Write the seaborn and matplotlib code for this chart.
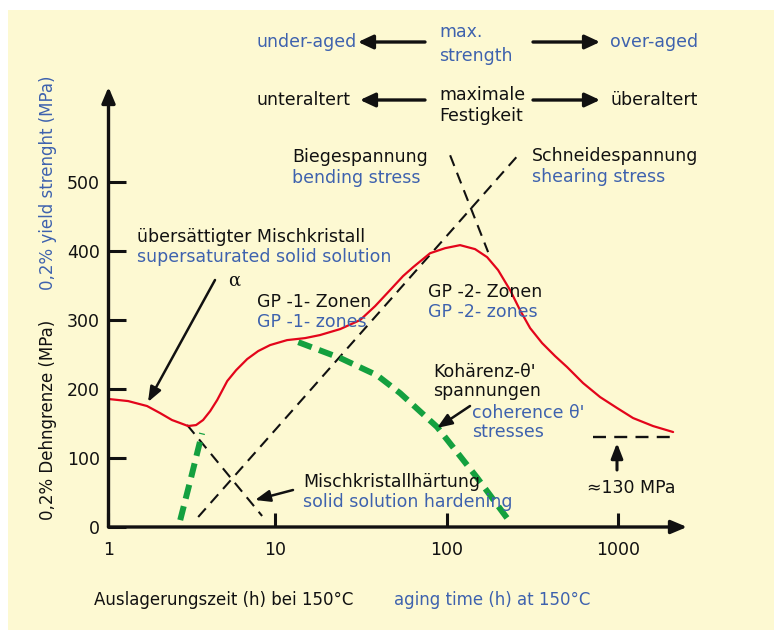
import matplotlib
matplotlib.use("Agg")
import matplotlib.pyplot as plt
from matplotlib.patches import Rectangle
import seaborn as sns
import pandas as pd

# ---------------- data ----------------
# yield strength curve (aging time h, MPa)
strength_time = [1.07, 1.38, 1.78, 2.12, 2.49, 2.78, 3.09, 3.44, 3.78, 4.16, 4.57,
                 5.23, 5.90, 6.84, 7.93, 9.31, 11.7, 14.9, 18.2, 23.9, 31.2, 38.2,
                 46.7, 55.6, 63.7, 80.0, 97.9, 119.7, 146.5, 172.2, 199.6, 234.5,
                 268, 307, 360.6, 429.5, 504.7, 625.6, 786.6, 988.6, 1225, 1602, 2099]
strength_mpa = [185.5, 182.6, 175.4, 165.2, 155.1, 150.7, 146.4, 147.8, 155.1, 168.1, 184.1,
                211.6, 227.5, 243.5, 255.1, 263.8, 271.0, 273.9, 278.3, 287.0, 300.0, 320.3,
                343.5, 363.8, 376.8, 397.0, 404.3, 408.7, 402.9, 391.3, 372.5, 343.5,
                314.5, 288.4, 266.7, 247.8, 231.9, 208.7, 188.4, 172.5, 158.0, 146.4, 137.7]

# shearing stress (Schneidespannung)
shear_time = [3.54, 261]
shear_mpa = [14.5, 539]
# bending stress (Biegespannung)
bend_time = [104.7, 174.5]
bend_mpa = [539, 398.6]
# solid solution hardening (Mischkristallhärtung)
ss_time = [3.05, 8.36]
ss_mpa = [148, 16]
# green: precipitation rise
green1_time = [2.78, 3.22, 3.73]
green1_mpa = [10, 72, 136]
# green: coherence stresses
green2_time = [13.6, 23.9, 39.2, 53.5, 87.9, 150, 225]
green2_mpa = [268, 245, 220, 194, 145, 72, 13]
# overaged level ~130 MPa
level_time = [716, 2213]
level_mpa = [130, 130]

y_ticks = [0, 100, 200, 300, 400, 500]
x_ticks = [1.06, 10, 100, 1000]
x_tick_labels = ["1", "10", "100", "1000"]

# ---------------- style ----------------
sns.set_style("white")
plt.rcParams["font.family"] = ["DejaVu Sans"]

YELLOW = "#FDF9D2"
RED = "#E3051B"
GREEN = "#14A03F"
BLUE = "#3E62AE"
BLACK = "#111111"

W, H = 774, 630
fig = plt.figure(figsize=(W / 100, H / 100), dpi=100, facecolor="white")
fig.patches.append(Rectangle((8 / W, 0), 1, (H - 10) / H, transform=fig.transFigure,
                             facecolor=YELLOW, edgecolor="none", zorder=-10))

ax_l, ax_r, ax_b, ax_t = 108.5, 687, 527, 87
ax = fig.add_axes([ax_l / W, (H - ax_b) / H, (ax_r - ax_l) / W, (ax_b - ax_t) / H])
ax.set_facecolor("none")
ax.set_xscale("log")
ax.set_xlim(1.06, 2530)
ax.set_ylim(0, 638)
for s in ax.spines.values():
    s.set_visible(False)
ax.grid(False)

# axis arrows
arrow_axis = dict(arrowstyle="-|>,head_length=0.95,head_width=0.4", lw=2.4, color=BLACK,
                  shrinkA=0, shrinkB=0, mutation_scale=10)
ax.annotate("", xy=(1, 0), xytext=(0, 0), xycoords="axes fraction", arrowprops=arrow_axis)
ax.annotate("", xy=(0, 1), xytext=(0, 0), xycoords="axes fraction", arrowprops=arrow_axis)

ax.set_yticks(y_ticks)
ax.set_yticklabels([str(v) for v in y_ticks])
ax.set_xticks(x_ticks)
ax.set_xticklabels(x_tick_labels)
ax.minorticks_off()
ax.tick_params(axis="y", direction="in", length=13, width=2.2, color=BLACK, pad=6,
               labelsize=12.5, labelcolor=BLACK, left=True)
ax.tick_params(axis="x", direction="in", length=10, width=2.2, color=BLACK, pad=10,
               labelsize=12.5, labelcolor=BLACK, bottom=True)

# ---------------- lines ----------------
def line(xs, ys, **kw):
    df = pd.DataFrame({"t": xs, "v": ys})
    return sns.lineplot(data=df, x="t", y="v", ax=ax, sort=False, estimator=None,
                        legend=False, **kw)

line(shear_time, shear_mpa, color=BLACK, lw=1.5, dashes=False)
line(bend_time, bend_mpa, color=BLACK, lw=1.5, dashes=False)
line(ss_time, ss_mpa, color=BLACK, lw=1.5, dashes=False)
line(level_time, level_mpa, color=BLACK, lw=1.7, dashes=False)
for l in ax.lines:
    l.set_dashes((5.5, 3.5))
n_black = len(ax.lines)
line(green1_time, green1_mpa, color=GREEN, lw=4.3, dashes=False)
line(green2_time, green2_mpa, color=GREEN, lw=4.3, dashes=False)
for l in ax.lines[n_black:]:
    l.set_dashes((2.4, 1.3))
    l.set_dash_capstyle("butt")
line(strength_time, strength_mpa, color=RED, lw=1.6, dashes=False)
for l in ax.lines:
    l.set_solid_joinstyle("round")
ax.set_xlabel("")
ax.set_ylabel("")

# ---------------- texts & annotation arrows (figure pixels) ----------------
def T(px, py, s, color=BLACK, size=12.5, ha="left", **kw):
    fig.text(px / W, 1 - py / H, s, color=color, fontsize=size, ha=ha, va="center", **kw)

def A(tail, head, lw=1.8, hl=0.9, hw=0.35, ms=10):
    ax.annotate("", xy=(head[0], H - head[1]), xytext=(tail[0], H - tail[1]),
                xycoords="figure pixels", textcoords="figure pixels",
                arrowprops=dict(arrowstyle=f"-|>,head_length={hl},head_width={hw}",
                                lw=lw, color=BLACK, shrinkA=0, shrinkB=0, mutation_scale=ms))

# top header
T(257, 42, "under-aged", BLUE)
T(439, 32, "max.", BLUE)
T(439, 56, "strength", BLUE)
T(610, 42, "over-aged", BLUE)
T(257, 100, "unteraltert")
T(439, 95, "maximale")
T(439, 116, "Festigkeit")
T(610, 100, "überaltert")
A((425, 42), (358, 42), lw=2.4, hw=0.42)
A((533, 42), (600, 42), lw=2.4, hw=0.42)
A((425, 100), (360, 100), lw=2.4, hw=0.42)
A((533, 100), (600, 100), lw=2.4, hw=0.42)

T(292, 157, "Biegespannung")
T(292, 178, "bending stress", BLUE)
T(532, 156, "Schneidespannung")
T(532, 177, "shearing stress", BLUE)
T(137, 237, "übersättigter Mischkristall")
T(137, 257, "supersaturated solid solution", BLUE)
T(228, 281, "α", size=13, family=["DejaVu Serif"])
T(257, 302, "GP -1- Zonen")
T(257, 322, "GP -1- zones", BLUE)
T(428, 292, "GP -2- Zonen")
T(428, 312, "GP -2- zones", BLUE)
T(433, 372, "Kohärenz-θ'")
T(433, 391, "spannungen")
T(472, 413, "coherence θ'", BLUE)
T(472, 432, "stresses", BLUE)
T(303, 482, "Mischkristallhärtung")
T(303, 502, "solid solution hardening", BLUE)
T(587, 488, "≈130 MPa")

A((215, 280), (148, 402))
A((293, 490), (255, 500))
A((470, 406), (437, 428))
A((617, 470), (617, 443), lw=2.2)

# axis titles
T(94, 600, "Auslagerungszeit (h) bei 150°C", size=12)
T(394, 600, "aging time (h) at 150°C", BLUE, size=12)
fig.text(48 / W, 1 - 420 / H, "0,2% Dehngrenze (MPa)", rotation=90, fontsize=12,
         color=BLACK, ha="center", va="center")
fig.text(48 / W, 1 - 183 / H, "0,2% yield strenght (MPa)", rotation=90, fontsize=12,
         color=BLUE, ha="center", va="center")

fig.savefig("out.png", dpi=100, facecolor="white")
